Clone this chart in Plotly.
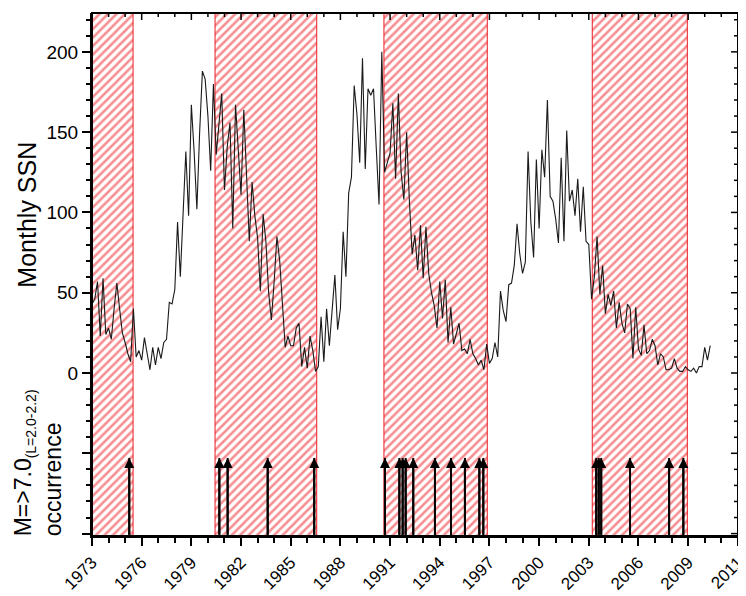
import plotly.graph_objects as go

# ---------------- data ----------------
# Monthly sunspot number, sampled every two months starting Jan 1973
ssn_start_year = 1973.0
ssn_step_year = 1.0 / 6.0
ssn_values = [
    43, 46, 57, 23, 59, 24,      # 1973
    28, 21, 40, 56, 40, 25,      # 1974
    19, 12, 7, 40, 10, 14,       # 1975
    8, 22, 12, 2, 16, 5,         # 1976
    16, 9, 19, 21, 44, 43,       # 1977
    52, 94, 60, 100, 138, 98,    # 1978
    167, 138, 102, 150, 188, 183,  # 1979
    160, 126, 180, 136, 155, 174,  # 1980
    114, 141, 156, 90, 167, 138,   # 1981
    111, 164, 122, 82, 119, 98,    # 1982
    84, 51, 99, 82, 50, 33,        # 1983
    57, 85, 70, 46, 16, 23,        # 1984
    17, 17, 28, 31, 4, 16,         # 1985
    3, 23, 14, 1, 4, 35,           # 1986
    7, 40, 17, 39, 61, 27,         # 1987
    40, 88, 60, 112, 122, 179,     # 1988
    161, 131, 196, 127, 177, 173,  # 1989
    177, 140, 105, 200, 125, 131,  # 1990
    137, 168, 121, 174, 125, 108,  # 1991
    150, 107, 74, 86, 64, 92,      # 1992
    59, 91, 62, 50, 42, 28,        # 1993
    57, 34, 58, 19, 41, 18,        # 1994
    24, 31, 14, 15, 12, 21,        # 1995
    12, 9, 5, 8, 2, 18,            # 1996
    6, 9, 19, 10, 51, 39,          # 1997
    32, 55, 56, 67, 93, 74,        # 1998
    62, 69, 138, 94, 72, 133,      # 1999
    90, 139, 122, 170, 110, 107,   # 2000
    96, 81, 134, 82, 151, 107,     # 2001
    114, 98, 121, 88, 116, 82,     # 2002
    80, 46, 60, 85, 49, 67,        # 2003
    37, 49, 42, 51, 28, 44,        # 2004
    31, 25, 43, 40, 9, 41,         # 2005
    15, 11, 30, 12, 14, 21,        # 2006
    17, 5, 12, 10, 2, 2,           # 2007
    3, 9, 3, 1, 1, 4,              # 2008
    2, 1, 3, 0, 4, 4,              # 2009
    16, 8, 17,                     # 2010
]
ssn_years = [ssn_start_year + i * ssn_step_year for i in range(len(ssn_values))]

# Hatched periods (start, end) in years
period_start = [1973.0, 1980.43, 1990.63, 2003.21]
period_end = [1975.48, 1986.57, 1996.87, 2008.95]

# M>=7.0 occurrences (L = 2.0-2.2)
event_years = [1975.25, 1980.69, 1981.19, 1983.61, 1986.42,
               1990.69, 1991.56, 1991.76, 1991.94, 1992.40, 1993.71,
               1994.68, 1995.52, 1996.39, 1996.63,
               2003.45, 2003.60, 2003.75, 2005.49, 2007.85, 2008.71]
event_count = [1] * len(event_years)

x_tick_vals = [1973, 1976, 1979, 1982, 1985, 1988, 1991, 1994, 1997, 2000, 2003, 2006, 2009, 2012]
x_tick_text = ["1973", "1976", "1979", "1982", "1985", "1988", "1991", "1994",
               "1997", "2000", "2003", "2006", "2009", "2011"]
x_minor_vals = list(range(1973, 2013))
y_tick_vals = [-100, -50, 0, 50, 100, 150, 200]
y_tick_text = ["", "", "0", "50", "100", "150", "200"]
y_minor_vals = list(range(-100, 221, 10))

x_min, x_max = 1973.0, 2012.01
y_min, y_max = -101.5, 224.2
occ_max = 6.7

FONT = "Arial, Liberation Sans, sans-serif"
RED = "rgb(236,28,36)"

# inward tick lengths on the top and right frame edges (fraction of plot size)
TOP_MAJOR, TOP_MINOR = 0.0134, 0.0077
RIGHT_MAJOR, RIGHT_MINOR = 0.0108, 0.0062

fig = go.Figure()

# hatched periods
for s, e in zip(period_start, period_end):
    fig.add_trace(go.Scatter(
        x=[s, e, e, s, s], y=[y_min, y_min, y_max, y_max, y_min],
        mode="lines", fill="toself", fillcolor="rgba(255,255,255,0)",
        fillpattern=dict(shape="/", fgcolor=RED, size=6, solidity=0.42),
        line=dict(color=RED, width=1), hoverinfo="skip", showlegend=False))

# SSN line
fig.add_trace(go.Scatter(x=ssn_years, y=ssn_values, mode="lines",
                         line=dict(color="#1a1a1a", width=1.1), showlegend=False))

# occurrence stems
stem_x, stem_y = [], []
for ex, ec in zip(event_years, event_count):
    stem_x += [ex, ex, None]
    stem_y += [0, ec, None]
fig.add_trace(go.Scatter(x=stem_x, y=stem_y, mode="lines", xaxis="x", yaxis="y2",
                         line=dict(color="black", width=2), showlegend=False,
                         hoverinfo="skip"))
for ex, ec in zip(event_years, event_count):
    fig.add_annotation(x=ex, y=ec, ax=ex, ay=0, xref="x", yref="y2",
                       axref="x", ayref="y2", text="", showarrow=True,
                       arrowhead=2, arrowsize=1.0, arrowwidth=2, arrowcolor="black")

tick_common = dict(tickcolor="black", showgrid=False, zeroline=False,
                   showline=True, linecolor="black", linewidth=2, automargin=False)

# page body has an 8px margin: the figure is sized so that it fits the window
fig.update_layout(
    width=738, height=588,
    margin=dict(l=84, r=8, t=5, b=60),
    plot_bgcolor="rgba(0,0,0,0)", paper_bgcolor="white",
    showlegend=False,
    font=dict(family=FONT, color="black"),
    xaxis=dict(range=[x_min, x_max], tickmode="array", tickvals=x_tick_vals,
               ticktext=x_tick_text, tickangle=-45, ticks="outside", ticklen=8,
               tickwidth=1.5, tickfont=dict(size=17, family=FONT),
               ticklabeloverflow="allow",
               minor=dict(tickmode="linear", tick0=1973, dtick=1, ticks="outside",
                          ticklen=5, tickwidth=1.5, tickcolor="black"),
               anchor="y", **tick_common),
    yaxis=dict(range=[y_min, y_max], tickmode="array", tickvals=y_tick_vals,
               ticktext=y_tick_text, ticks="outside", ticklen=8, tickwidth=1.5,
               tickfont=dict(size=19, family=FONT),
               minor=dict(tickmode="linear", tick0=0, dtick=10, ticks="outside",
                          ticklen=4, tickwidth=1.5, tickcolor="black"),
               anchor="x", **tick_common),
    yaxis2=dict(overlaying="y", range=[0, occ_max], visible=False, anchor="x"),
)

# inward ticks on the top and right edges of the frame (at the axis tick values)
for v in x_minor_vals:
    ln = TOP_MAJOR if v in x_tick_vals else TOP_MINOR
    fig.add_shape(type="line", xref="x", yref="paper", x0=v, x1=v, y0=1, y1=1 - ln,
                  line=dict(color="black", width=1.5), layer="above")
for v in y_minor_vals:
    ln = RIGHT_MAJOR if v in y_tick_vals else RIGHT_MINOR
    fig.add_shape(type="line", xref="paper", yref="y", x0=1, x1=1 - ln, y0=v, y1=v,
                  line=dict(color="black", width=1.5), layer="above")

# plot frame
fig.add_shape(type="rect", xref="paper", yref="paper", x0=0, x1=1, y0=0, y1=1,
              line=dict(color="black", width=2), fillcolor="rgba(0,0,0,0)", layer="above")

fig.add_annotation(text="Monthly SSN", textangle=-90, xref="paper", yref="paper",
                   x=-0.101, y=0.614, xanchor="center", yanchor="middle",
                   showarrow=False, font=dict(size=25, family=FONT, color="black"))
fig.add_annotation(text="M=>7.0<sub><span style='font-size:14px'>(L=2.0-2.2)</span></sub><br>occurrence",
                   textangle=-90, xref="paper", yref="paper",
                   x=-0.084, y=-0.004, xanchor="center", yanchor="bottom", align="left",
                   showarrow=False, font=dict(size=23, family=FONT, color="black"))

fig.write_html("out.html")
